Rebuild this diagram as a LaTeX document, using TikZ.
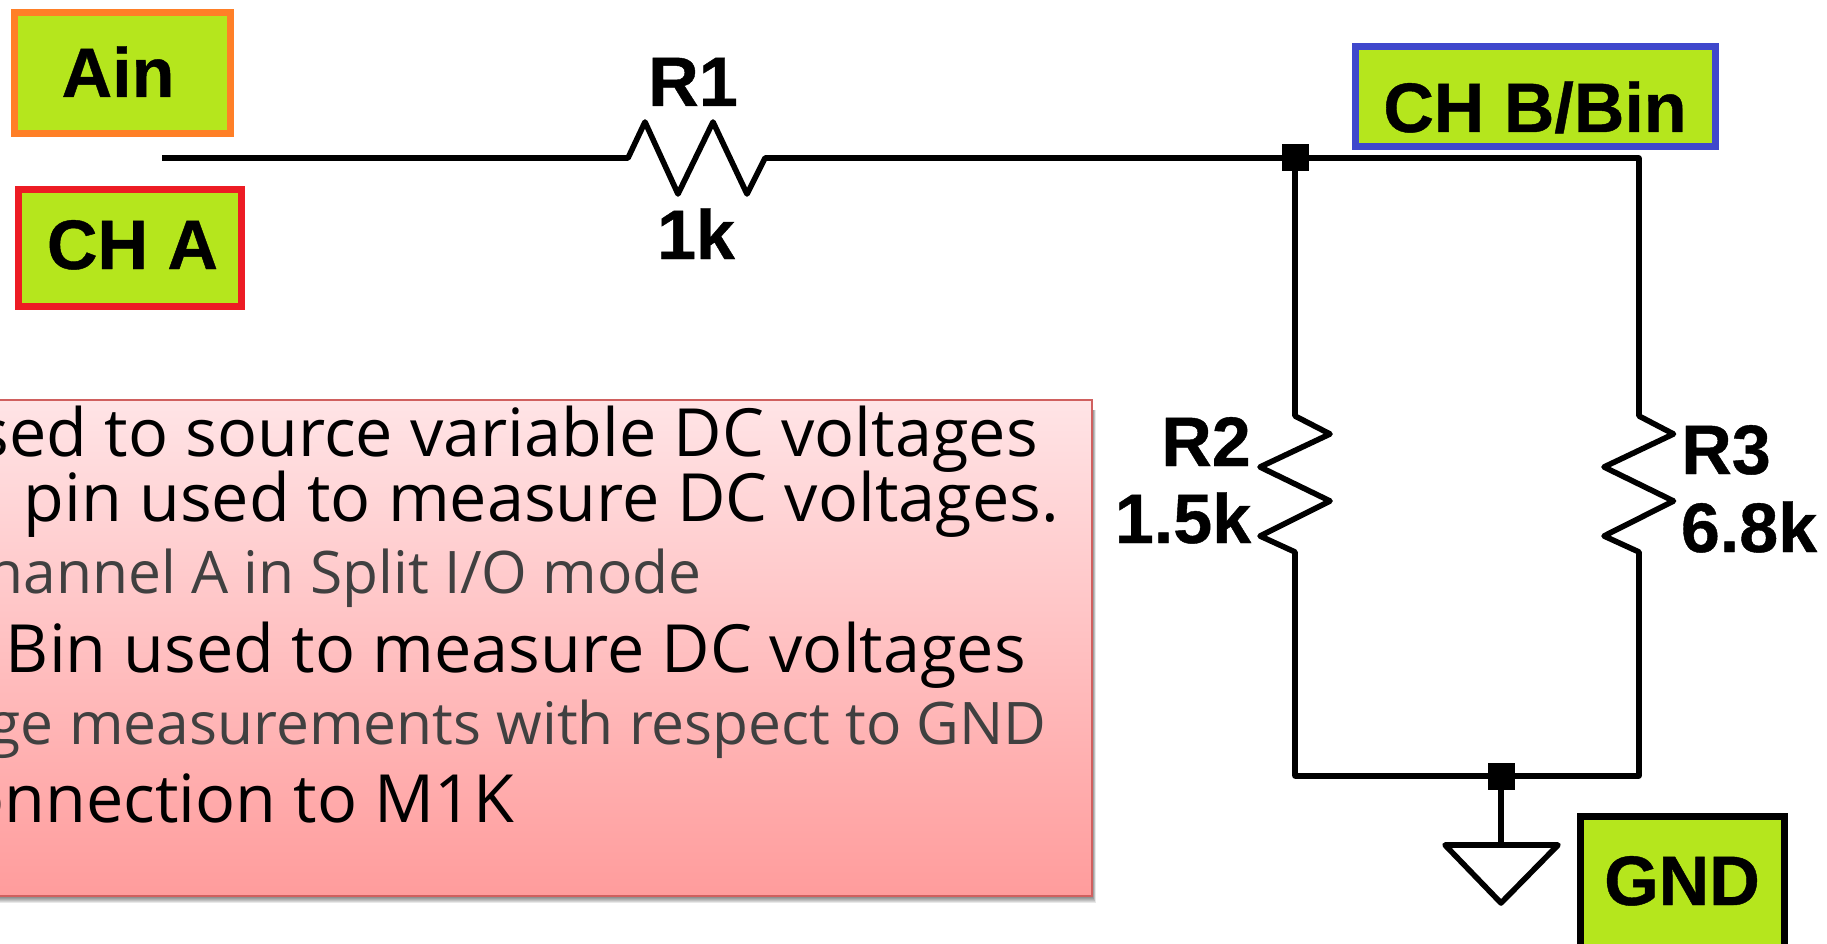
\documentclass[tikz,border=0pt]{standalone}
\usepackage{fontspec}
\setmainfont{Liberation Sans}[BoldFeatures={FakeBold=0.6}]
\newfontfamily\notefont{Open Sans}
\definecolor{lime}{HTML}{B5E61D}
\definecolor{pinorange}{HTML}{FF7F27}
\definecolor{pinred}{HTML}{ED1C24}
\definecolor{pinblue}{HTML}{3F48CC}
\definecolor{noteTop}{HTML}{FFE4E6}
\definecolor{noteBot}{HTML}{FF9C9C}
\definecolor{noteEdge}{HTML}{D0605F}
\definecolor{noteGray}{HTML}{404040}
\tikzset{
  pinbox/.style 2 args={draw=#1,line width=7pt,fill=lime,inner sep=0pt,anchor=north west,
     minimum width=#2},
  cirlabel/.style={inner sep=0pt,anchor=base,font=\bfseries\fontsize{70}{70}\selectfont,text=black},
  wire/.style={line width=5.6pt,line join=round,line cap=butt,draw=black},
  dotnode/.style={fill=black,inner sep=0pt,minimum size=27pt},
  notemain/.style={inner sep=0pt,anchor=base east,text=black,font=\notefont\fontsize{66.5}{66.5}\selectfont},
  notesub/.style={inner sep=0pt,anchor=base east,text=noteGray,font=\notefont\fontsize{58.7}{58.7}\selectfont},
}
\begin{document}
\begin{tikzpicture}[x=1pt,y=-1pt]
\useasboundingbox (0,0) rectangle (1827,944);
\clip (0,0) rectangle (1827,944);
% note panel
\foreach \d in {1,...,7}{
  \fill[black,opacity=.09] (-20,410) rectangle ({1092+\d/2},{896+\d});
}
\path[top color=noteTop,bottom color=noteBot,draw=noteEdge,line width=1.6pt]
  (-20,400) rectangle (1092,896);
\node[notemain] (n1) at (1038,456) {sed to source variable DC voltages};
\node[notemain] (n2) at (1059,521) {pin used to measure DC voltages.};
\node[notesub]  (n3) at (702,593)  {hannel A in Split I/O mode};
\node[notemain] (n4) at (1026,672) {Bin used to measure DC voltages};
\node[notesub]  (n5) at (1047,744) {ge measurements with respect to GND};
\node[notemain] (n6) at (514,822)  {onnection to M1K};
% pin boxes
\node[pinbox={pinorange}{216pt},minimum height=121pt] (ainbox) at (11,9) {};
\node[pinbox={pinred}{223pt},minimum height=117pt] (chabox) at (15,186) {};
\node[pinbox={pinblue}{360pt},minimum height=100pt] (chbbox) at (1352,43) {};
\node[pinbox={black}{204pt},minimum height=132pt] (gndbox) at (1577,813) {};
\node[cirlabel] (ainlbl) at (118,97) {Ain};
\node[cirlabel] (chalbl) at (132.5,269) {CH A};
\node[cirlabel] (chblbl) at (1535,132) {CH B/Bin};
\node[cirlabel] (gndlbl) at (1682,905) {GND};
% circuit labels
\node[cirlabel] (r1name) at (693,106) {R1};
\node[cirlabel] (r1val)  at (696,259) {1k};
\node[cirlabel] (r2name) at (1206,466) {R2};
\node[cirlabel] (r2val)  at (1183,543) {1.5k};
\node[cirlabel] (r3name) at (1726,474) {R3};
\node[cirlabel] (r3val)  at (1749,552) {6.8k};
% junctions and wire ends
\node[dotnode] (jtop) at (1295,158) {};
\node[dotnode] (jbot) at (1501,776) {};
\coordinate (infeed) at (162,158);
\coordinate (trcorner) at (1639,158);
\coordinate (brcorner) at (1639,776);
\coordinate (blcorner) at (1295,776);
\coordinate (gndtop) at (1501,845);
% wires with resistors
\draw[wire] (infeed) -- (628,158) -- (645,122) -- (678,194) -- (713,122) -- (747,194) -- (765,158) -- (jtop.center);
\draw[wire] (jtop.center) -- (trcorner) -- (1639,416) -- (1673.5,434) -- (1604,467) -- (1673.5,501) -- (1604,536) -- (1639,552) -- (brcorner) -- (jbot.center);
\draw[wire] (jtop.center) -- (1295,416) -- (1330,434) -- (1260,467) -- (1330,501) -- (1260,536) -- (1295,552) -- (blcorner) -- (jbot.center);
\draw[wire] (jbot.center) -- (gndtop);
% ground symbol
\draw[wire] (1445,845) -- (1558,845) -- (1501,903) -- cycle;
\end{tikzpicture}
\end{document}
